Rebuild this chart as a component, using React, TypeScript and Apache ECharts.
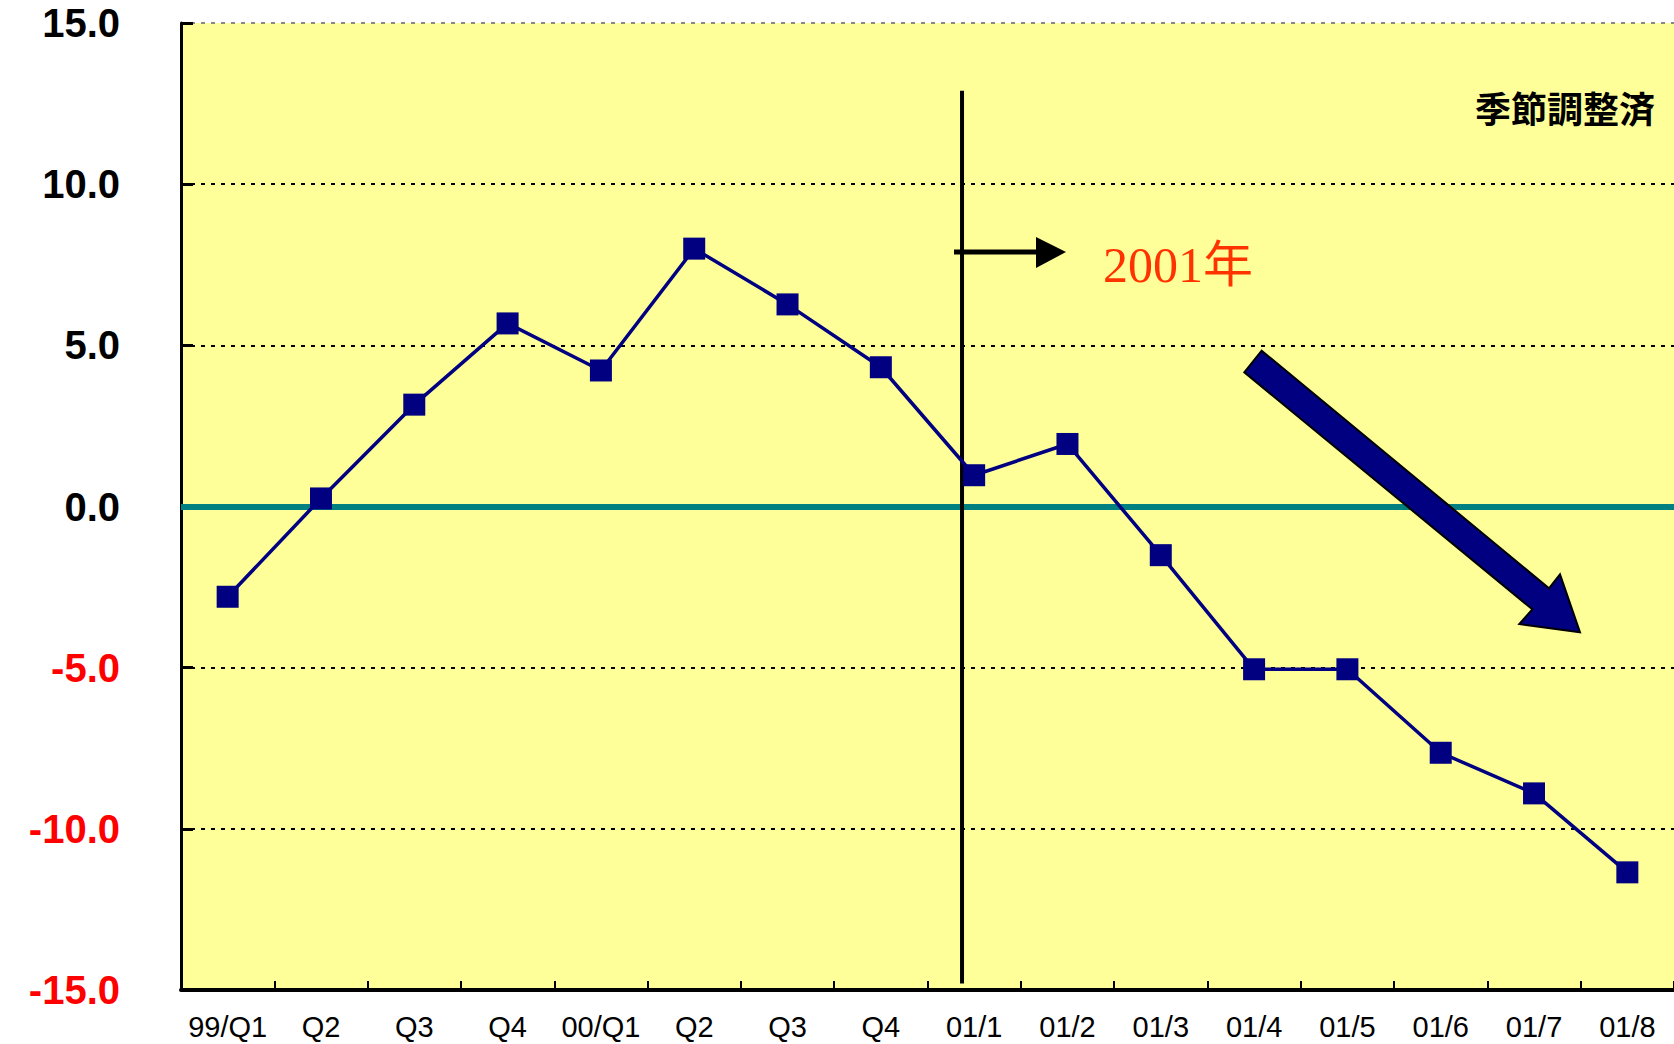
import React, { useEffect, useRef } from "react";
import * as echarts from "echarts";

const categories = [
  "99/Q1", "Q2", "Q3", "Q4", "00/Q1", "Q2", "Q3", "Q4",
  "01/1", "01/2", "01/3", "01/4", "01/5", "01/6", "01/7", "01/8",
];
const values = [
  -2.8, 0.25, 3.16, 5.68, 4.22, 8.0, 6.27, 4.32,
  0.97, 1.94, -1.51, -5.05, -5.05, -7.64, -8.9, -11.35,
];
const yTicks = { min: -15, max: 15, interval: 5 };
const dividerPos = 7.87; // position between 00/Q4 and 01/1 on the category scale
const dividerSpan = [12.9, -14.8];
const dividerLabel = "2001年";
const noteLabel = "季節調整済";

export default function App() {
  const ref = useRef<HTMLDivElement>(null);
  useEffect(() => {
    if (!ref.current) return;
    const chart = echarts.init(ref.current, undefined, { renderer: "svg" });
    const option: any = {
      animation: false,
      backgroundColor: "#ffffff",
      grid: {
        left: 181,
        top: 23,
        width: 1498,
        height: 967,
        show: true,
        backgroundColor: "#FFFF99",
        borderWidth: 0,
      },
      xAxis: [
        {
          type: "category",
          data: categories,
          boundaryGap: true,
          axisLine: { show: true, onZero: false, lineStyle: { color: "#000", width: 4 } },
          axisTick: { show: true, inside: true, length: 9, lineStyle: { color: "#000", width: 2 } },
          axisLabel: {
            color: "#000",
            fontSize: 29,
            fontFamily: "'Liberation Sans Narrow', 'Arial Narrow', 'Liberation Sans', sans-serif",
            margin: 22,
            interval: 0,
          },
          splitLine: { show: false },
        },
        {
          type: "value",
          min: -0.5,
          max: 15.5,
          show: false,
          axisLine: { onZero: false },
        },
      ],
      yAxis: {
        type: "value",
        min: yTicks.min,
        max: yTicks.max,
        interval: yTicks.interval,
        axisLine: { show: true, onZero: false, lineStyle: { color: "#000", width: 3 } },
        axisTick: { show: true, inside: true, length: 12, lineStyle: { color: "#000", width: 3 } },
        axisLabel: {
          fontSize: 40,
          fontWeight: "bold",
          fontFamily: "'Liberation Sans', Arial, sans-serif",
          margin: 61,
          padding: [10, 0, 0, 0],
          formatter: (v: number) => v.toFixed(1),
          color: (v: any) => (Number(v) < 0 ? "#FF0000" : "#000000"),
        },
        splitLine: {
          show: true,
          lineStyle: {
            color: ["transparent", "#000", "#000", "transparent", "#000", "#000", "#888"],
            width: 2,
            type: [4, 6],
          },
        },
      },
      series: [
        {
          type: "line",
          data: values,
          xAxisIndex: 0,
          symbol: "rect",
          symbolSize: 22,
          lineStyle: { color: "#000080", width: 3.5 },
          itemStyle: { color: "#000080" },
          z: 5,
          markLine: {
            silent: true,
            symbol: "none",
            label: { show: false },
            lineStyle: { color: "#008080", width: 6, type: "solid" },
            data: [{ yAxis: 0 }],
            z: 3,
          },
        },
        {
          type: "line",
          xAxisIndex: 1,
          data: [
            [dividerPos, dividerSpan[0]],
            [dividerPos, dividerSpan[1]],
          ],
          symbol: "none",
          lineStyle: { color: "#000", width: 4 },
          z: 4,
        },
      ],
      graphic: [
        {
          type: "text",
          x: 1655,
          y: 107,
          style: {
            text: noteLabel,
            fill: "#000",
            font: "bold 36px 'Noto Sans CJK JP', sans-serif",
            align: "right",
            verticalAlign: "middle",
          },
          z: 10,
        },
        {
          type: "line",
          shape: { x1: 954, y1: 252, x2: 1040, y2: 252 },
          style: { stroke: "#000", lineWidth: 5 },
          z: 10,
        },
        {
          type: "polygon",
          shape: { points: [[1036, 237], [1066, 252], [1036, 268]] },
          style: { fill: "#000" },
          z: 10,
        },
        {
          type: "text",
          x: 1103,
          y: 265,
          style: {
            text: dividerLabel,
            fill: "#FF3300",
            font: "50px 'Liberation Serif', 'Noto Sans CJK JP', serif",
            align: "left",
            verticalAlign: "middle",
          },
          z: 10,
        },
        {
          type: "polygon",
          shape: {
            points: [
              [1261.7, 350.7],
              [1549, 588.3],
              [1560, 574.3],
              [1580, 632.3],
              [1519.3, 624],
              [1532.3, 609.3],
              [1244.3, 372.3],
            ],
          },
          style: { fill: "#000080", stroke: "#000", lineWidth: 2 },
          z: 10,
        },
      ],
    };
    chart.setOption(option);
    return () => chart.dispose();
  }, []);
  return (
    <div
      ref={ref}
      style={{ position: "absolute", left: 0, top: 0, width: 1674, height: 1044 }}
    />
  );
}
